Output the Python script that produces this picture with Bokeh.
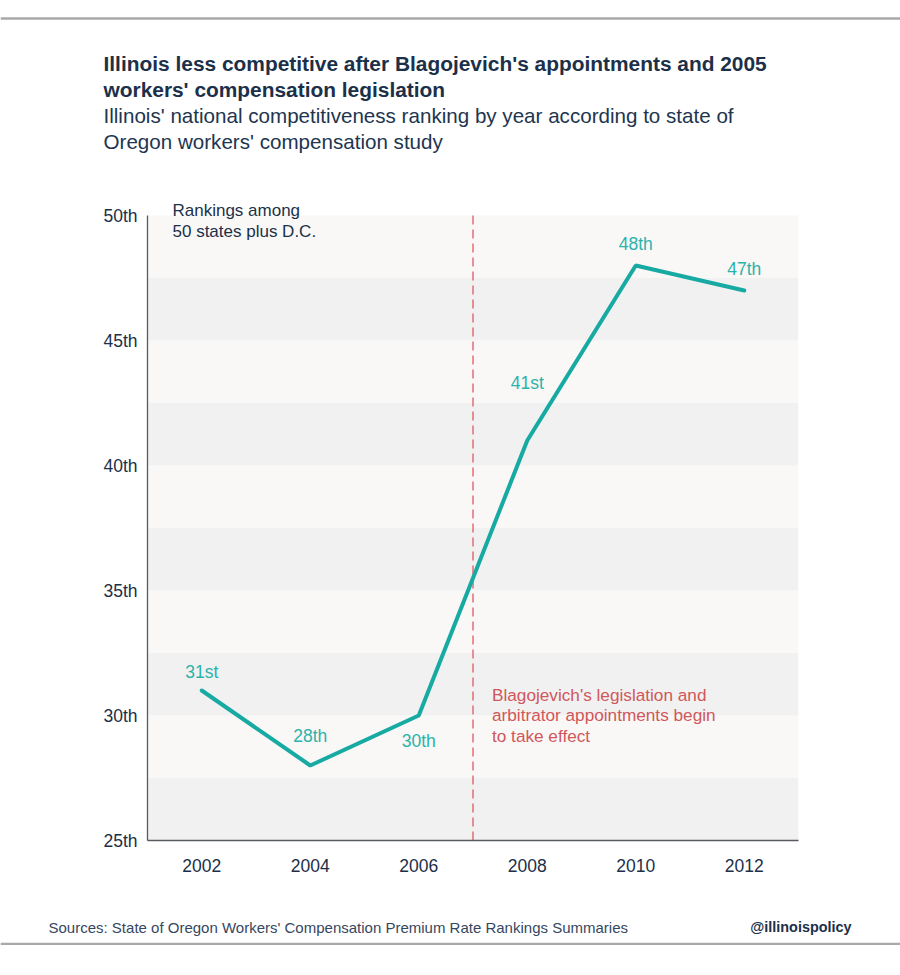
from bokeh.plotting import figure
from bokeh.layouts import column
from bokeh.models import (Range1d, FixedTicker, Label, LabelSet, ColumnDataSource,
                          BoxAnnotation)
from bokeh.core.properties import value
from bokeh.embed import file_html
from bokeh.resources import INLINE

# ---- data ----
years = [2002, 2004, 2006, 2008, 2010, 2012]
ranks = [31, 28, 30, 41, 48, 47]
rank_labels = ["31st", "28th", "30th", "41st", "48th", "47th"]
y_ticks = [25, 30, 35, 40, 45, 50]
y_tick_labels = ["25th", "30th", "35th", "40th", "45th", "50th"]
x_ticks = [2002, 2004, 2006, 2008, 2010, 2012]
event_year = 2007

title_lines = ["Illinois less competitive after Blagojevich's appointments and 2005",
               "workers' compensation legislation"]
subtitle_lines = ["Illinois' national competitiveness ranking by year according to state of",
                  "Oregon workers' compensation study"]
note_lines = ["Rankings among", "50 states plus D.C."]
event_lines = ["Blagojevich's legislation and", "arbitrator appointments begin",
               "to take effect"]
source_text = "Sources: State of Oregon Workers' Compensation Premium Rate Rankings Summaries"
handle_text = "@illinoispolicy"

# ---- styles ----
NAVY = "#1c3049"
TEAL = "#17aaa2"
TEAL_TXT = "#2bb3ab"
RED = "#dd4c55"
RED_TXT = "#d0575a"
RULE = "#a9a9a9"
FONT = "Liberation Sans"
W = 900


def blank(height):
    f = figure(width=W, height=height, output_backend="svg", toolbar_location=None,
               x_range=Range1d(0, W), y_range=Range1d(height, 0),
               x_axis_type=None, y_axis_type=None, min_border=0, title=None,
               frame_align=False)
    f.outline_line_color = None
    f.grid.visible = False
    f.background_fill_color = "white"
    f.border_fill_color = "white"
    return f


def txt(f, text, x, y, size, color, bold=False, align="left"):
    f.add_layout(Label(x=x, y=y, text=text, text_font=FONT, text_font_size=size,
                       text_color=color, text_font_style="bold" if bold else "normal",
                       text_align=align, text_baseline="middle"))


# ---- header ----
HH = 200
head = blank(HH)
head.add_layout(BoxAnnotation(top=16.8, bottom=19.2, fill_color=RULE, fill_alpha=1,
                              line_color=None))
txt(head, title_lines[0], 103, 63, "20.9px", NAVY, bold=True)
txt(head, title_lines[1], 103, 88.7, "20.9px", NAVY, bold=True)
txt(head, subtitle_lines[0], 103, 114.5, "20.6px", "#22354f")
txt(head, subtitle_lines[1], 103, 140.5, "20.6px", "#22354f")

# ---- main chart ----
p = figure(width=W, height=680, output_backend="svg", toolbar_location=None, title=None,
           x_range=Range1d(2001, 2013), y_range=Range1d(25, 50.6),
           min_border_left=147, min_border_right=102, min_border_top=0,
           min_border_bottom=40, frame_align=False)
p.background_fill_color = "white"
p.border_fill_color = "white"
p.outline_line_color = None
p.grid.visible = False

lo = 25.0
k = 0
while lo < 50:
    p.add_layout(BoxAnnotation(bottom=lo, top=lo + 2.5,
                               fill_color="#f1f1f1" if k % 2 == 0 else "#f9f8f7",
                               fill_alpha=1, line_color=None, level="underlay"))
    lo += 2.5
    k += 1

for ax in (p.xaxis[0], p.yaxis[0]):
    ax.axis_line_color = "#575b60"
    ax.axis_line_width = 1.3
    ax.major_tick_line_color = None
    ax.minor_tick_line_color = None
    ax.major_tick_out = 0
    ax.major_tick_in = 0
    ax.major_label_text_font = FONT
    ax.major_label_text_font_size = "17.5px"
    ax.major_label_text_color = NAVY
p.yaxis.ticker = FixedTicker(ticks=y_ticks)
p.yaxis.major_label_overrides = {t: s for t, s in zip(y_ticks, y_tick_labels)}
p.yaxis.major_label_standoff = 10
p.yaxis.bounds = (y_ticks[0], y_ticks[-1])
p.xaxis.ticker = FixedTicker(ticks=x_ticks)
p.xaxis.major_label_standoff = 18

# event line
p.segment(x0=[event_year], y0=[y_ticks[0]], x1=[event_year], y1=[y_ticks[-1]],
          line_color=RED, line_width=1.2, line_dash="9 5")

# main line
p.line(years, ranks, line_color=TEAL, line_width=4, line_cap="round")

src = ColumnDataSource(dict(x=years, y=ranks, t=rank_labels,
                            xo=[0, 0, 0, 0, 0, 0], yo=[19, 30, -25, 58, 22, 22]))
p.add_layout(LabelSet(x="x", y="y", text="t", source=src, x_offset="xo", y_offset="yo",
                      text_align="center", text_baseline="middle",
                      text_font=value(FONT), text_font_size="17.5px",
                      text_color=TEAL_TXT))

for i, line in enumerate(note_lines):
    p.add_layout(Label(x=2001, y=y_ticks[-1], x_offset=25, y_offset=5 - 20.7 * i,
                       text=line, text_font=FONT, text_font_size="17px",
                       text_color=NAVY, text_baseline="middle"))

for i, line in enumerate(event_lines):
    p.add_layout(Label(x=event_year, y=30, x_offset=19, y_offset=21 - 20.8 * i,
                       text=line, text_font=FONT, text_font_size="17.2px",
                       text_color=RED_TXT, text_baseline="middle"))

# ---- footer ----
FH = 95
foot = blank(FH)
txt(foot, source_text, 48, 46.5, "15px", "#36475f")
txt(foot, handle_text, 851, 46.5, "14.4px", NAVY, bold=True, align="right")
foot.add_layout(BoxAnnotation(top=62.2, bottom=64.6, fill_color=RULE, fill_alpha=1,
                              line_color=None))

layout = column(head, p, foot, spacing=0)
open("out.html", "w").write(file_html(layout, INLINE))
